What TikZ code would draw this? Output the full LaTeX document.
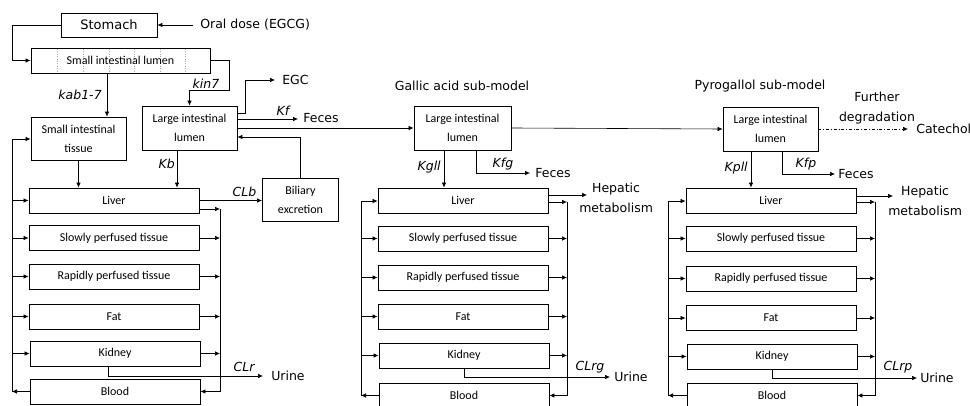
\documentclass[tikz,border=0pt]{standalone}
\usepackage{fontspec}
\setmainfont{Carlito}
\newfontfamily\lblfont{DejaVu Sans}
\usetikzlibrary{arrows.meta}

\begin{document}
\begin{tikzpicture}[x=1pt,y=-1pt,->,>={Latex[length=5pt,width=4.5pt]},line width=0.6pt,
  box/.style={draw,-,line width=0.9pt,minimum height=25pt,inner sep=0pt,align=center,font=\fontsize{12}{19}\selectfont},
  organ/.style={box,minimum width=170pt},
  lbl/.style={inner sep=2pt,align=center,font=\lblfont\fontsize{12.5}{20}\selectfont},
  rate/.style={inner sep=0pt,font=\lblfont\itshape\fontsize{12.5}{14}\selectfont}]
  \useasboundingbox (0,0) rectangle (970,406);

  % EGCG model
  \node[box,minimum width=96pt,minimum height=24pt,font=\lblfont\fontsize{13}{15}\selectfont] (st) at (109,25) {Stomach};
  \node[lbl,anchor=west,inner xsep=7pt] (od) at (193,25) {Oral dose (EGCG)};
  \foreach \x in {57,83,109,134,160,185}
    \draw[-,gray!70,dotted,line width=0.4pt] (\x,49) -- (\x,72);
  \node[box,minimum width=179pt] (sil) at (120.5,60.5) {Small intestinal lumen};
  \node[box,minimum width=95pt,minimum height=43pt] (sit) at (78.5,138.5) {Small intestinal\\tissue};
  \node[box,minimum width=95pt,minimum height=44pt] (lil) at (189.5,128) {Large intestinal\\lumen};
  \node[box,minimum width=76pt,minimum height=43pt] (be) at (300.5,199.5) {Biliary\\excretion};
  \node[lbl,anchor=west,inner xsep=7pt] (egc) at (275,80) {EGC};
  \node[lbl,anchor=west,inner xsep=5pt] (fe1) at (298,118) {Feces};
  \node[organ] (lv1) at (114,200.5) {Liver};
  \node[organ] (sp1) at (114,238) {Slowly perfused tissue};
  \node[organ] (rp1) at (114,276.5) {Rapidly perfused tissue};
  \node[organ] (ft1) at (114,316.5) {Fat};
  \node[organ] (kd1) at (115,353.5) {Kidney};
  \node[organ] (bl1) at (115,391.5) {Blood};
  \node[lbl,anchor=west,inner xsep=8pt] (ur1) at (263,376) {Urine};
  \coordinate (lt1) at (12,139);
  \coordinate (lb1) at (12,391.5);
  \coordinate (rt1) at (220,209);
  \coordinate (rb1) at (220,391.5);

  \draw (od) -- (st);
  \draw (st.west) -- ++(-48,0) |- (sil.west);
  \draw ([xshift=-13.5pt]sil.south) -- ([xshift=-13.5pt]sil.south |- sit.north)
    node[rate,pos=0.5,left=5pt] {kab1-7};
  \draw (sil.east) -| (229,90) -| (lil.north);
  \node[rate] at (206,84) {kin7};
  \draw ([yshift=15pt]lil.east) -- ++(8,0) |- (egc);
  \draw ([yshift=9pt]lil.east) -- ([yshift=9pt]lil.east -| fe1.west)
    node[rate,pos=0.75,above=3pt] {Kf};
  \draw (be.north) |- ([yshift=-9pt]lil.east);
  \draw (sit.south) -- (sit.south |- lv1.north);
  \draw ([xshift=-12.5pt]lil.south) -- ([xshift=-12.5pt]lil.south |- lv1.north)
    node[rate,pos=0.35,left=2pt] {Kb};
  \draw (lv1.east) -- (be.west |- lv1.east) node[rate,pos=0.72,above=4pt] {CLb};
  \draw[-] (lt1) -- (lb1);
  \draw[-] (rt1) -- (rb1);
  \draw (lt1) -- (lt1 -| sit.west);
  \draw (lv1.west -| lt1) -- (lv1.west);
  \draw (sp1.west -| lt1) -- (sp1.west);
  \draw (rp1.west -| lt1) -- (rp1.west);
  \draw (ft1.west -| lt1) -- (ft1.west);
  \draw (kd1.west -| lt1) -- (kd1.west);
  \draw (bl1.west) -- (lb1);
  \draw (lv1.east |- rt1) -- (rt1);
  \draw (sp1.east) -- (sp1.east -| rt1);
  \draw (rp1.east) -- (rp1.east -| rt1);
  \draw (ft1.east) -- (ft1.east -| rt1);
  \draw (kd1.east) -- (kd1.east -| rt1);
  \draw (rb1) -- (bl1.east);
  \draw ([xshift=-7pt]kd1.south) |- (ur1.west);
  \node[rate] at (244,367) {CLr};

  % Gallic acid sub-model
  \node[lbl] (gt) at (462,86) {Gallic acid sub-model};
  \node[box,minimum width=97pt,minimum height=44pt] (g) at (462.5,128) {Large intestinal\\lumen};
  \node[lbl,anchor=west,inner xsep=5pt] (fe2) at (530,173) {Feces};
  \node[lbl,anchor=west] (hm2) at (577,198) {Hepatic\\metabolism};
  \node[organ] (lv2) at (463,200.5) {Liver};
  \node[organ] (sp2) at (463,238.5) {Slowly perfused tissue};
  \node[organ] (rp2) at (463,277.5) {Rapidly perfused tissue};
  \node[organ] (ft2) at (463,316.5) {Fat};
  \node[organ] (kd2) at (464,355.5) {Kidney};
  \node[organ] (bl2) at (464,395.5) {Blood};
  \node[lbl,anchor=west,inner xsep=4pt] (ur2) at (610,377) {Urine};
  \coordinate (lt2) at (361,201);
  \coordinate (lb2) at (361,395.5);
  \coordinate (rt2) at (567,202);
  \coordinate (rb2) at (567,395.5);

  \draw (lil.east) -- (g.west);
  \draw ([xshift=-18.5pt]g.south) -- ([xshift=-18.5pt]g.south |- lv2.north)
    node[rate,pos=0.45,left=3pt] {Kgll};
  \draw ([xshift=13.5pt]g.south) |- (fe2.west);
  \node[rate] at (503,164) {Kfg};
  \draw ([yshift=5.5pt]lv2.east) -- ([xshift=10pt,yshift=5.5pt]lv2.east -| hm2.west);
  \draw[-] (lt2) -- (lb2);
  \draw[-] (rt2) -- (rb2);
  \draw (lt2) -- (lt2 -| lv2.west);
  \draw (sp2.west -| lt2) -- (sp2.west);
  \draw (rp2.west -| lt2) -- (rp2.west);
  \draw (ft2.west -| lt2) -- (ft2.west);
  \draw (kd2.west -| lt2) -- (kd2.west);
  \draw (bl2.west) -- (lb2);
  \draw (lv2.east |- rt2) -- (rt2);
  \draw (sp2.east) -- (sp2.east -| rt2);
  \draw (rp2.east) -- (rp2.east -| rt2);
  \draw (ft2.east) -- (ft2.east -| rt2);
  \draw (kd2.east) -- (kd2.east -| rt2);
  \draw (rb2) -- (bl2.east);
  \draw (kd2.south) |- (ur2.west);
  \node[rate] at (590,367) {CLrg};

  % Pyrogallol sub-model
  \node[lbl] (pt) at (760,86) {Pyrogallol sub-model};
  \node[box,minimum width=95pt,minimum height=44pt] (p) at (770.5,129) {Large intestinal\\lumen};
  \node[lbl,anchor=west,inner xsep=8pt] (cat) at (908,129) {Catechol};
  \node[lbl] (fd) at (877,108) {Further\\degradation};
  \node[lbl,anchor=west,inner xsep=3pt] (fe3) at (835,174) {Feces};
  \node[lbl,anchor=west] (hm3) at (886,201) {Hepatic\\metabolism};
  \node[organ] (lv3) at (771,200.5) {Liver};
  \node[organ] (sp3) at (771,238.5) {Slowly perfused tissue};
  \node[organ] (rp3) at (771,278.5) {Rapidly perfused tissue};
  \node[organ] (ft3) at (771,318) {Fat};
  \node[organ] (kd3) at (772,356.5) {Kidney};
  \node[organ] (bl3) at (772,395.5) {Blood};
  \node[lbl,anchor=west,inner xsep=3pt] (ur3) at (917,378) {Urine};
  \coordinate (lt3) at (668,201);
  \coordinate (lb3) at (668,395.5);
  \coordinate (rt3) at (875,202);
  \coordinate (rb3) at (875,395.5);

  \draw (g.east) -- (p.west);
  \draw[dash dot] (p.east) -- (cat.west);
  \draw ([xshift=-19.5pt]p.south) -- ([xshift=-19.5pt]p.south |- lv3.north)
    node[rate,pos=0.45,left=3pt] {Kpll};
  \draw ([xshift=11.5pt]p.south) |- (fe3.west);
  \node[rate] at (806,164) {Kfp};
  \draw ([yshift=4.5pt]lv3.east) -- ([xshift=7pt,yshift=4.5pt]lv3.east -| hm3.west);
  \draw[-] (lt3) -- (lb3);
  \draw[-] (rt3) -- (rb3);
  \draw (lt3) -- (lt3 -| lv3.west);
  \draw (sp3.west -| lt3) -- (sp3.west);
  \draw (rp3.west -| lt3) -- (rp3.west);
  \draw (ft3.west -| lt3) -- (ft3.west);
  \draw (kd3.west -| lt3) -- (kd3.west);
  \draw (bl3.west) -- (lb3);
  \draw (lv3.east |- rt3) -- (rt3);
  \draw (sp3.east) -- (sp3.east -| rt3);
  \draw (rp3.east) -- (rp3.east -| rt3);
  \draw (ft3.east) -- (ft3.east -| rt3);
  \draw (kd3.east) -- (kd3.east -| rt3);
  \draw (rb3) -- (bl3.east);
  \draw (kd3.south) |- (ur3.west);
  \node[rate] at (898,367) {CLrp};
\end{tikzpicture}
\end{document}
